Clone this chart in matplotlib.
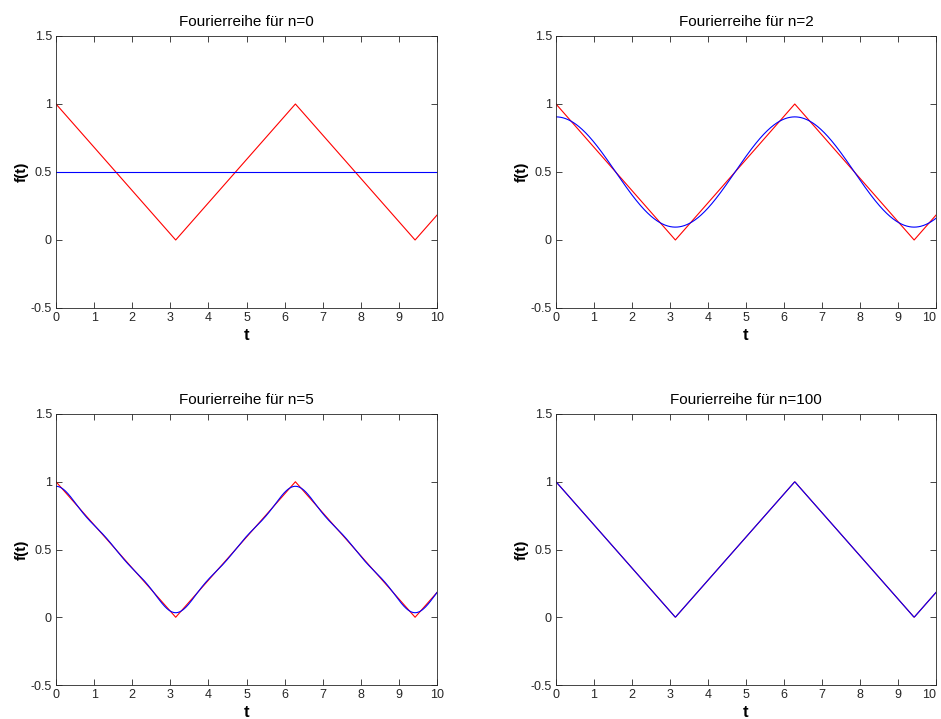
import numpy as np
import matplotlib.pyplot as plt

plt.rcParams['font.family'] = ['Liberation Sans', 'DejaVu Sans']

# triangle wave corners (period 2*pi), cut off at t = 10
t_corners = [0.0, 3.1416, 6.2832, 9.4248, 10.0]
f_corners = [1.0, 0.0, 1.0, 0.0, 0.183]

# number of harmonics in each partial sum
n_terms = [0, 2, 5, 100]

# Fourier coefficients of the wave: a0/2 = 0.5, a_k = 4/(pi^2 k^2) for odd k
a0_half = 0.5


def partial_sum(t, n):
    y = np.full_like(t, a0_half)
    for k in range(1, n + 1, 2):
        y += 4.0 / (np.pi ** 2 * k ** 2) * np.cos(k * t)
    return y


t = np.linspace(0, 10, 1001)

fig = plt.figure(figsize=(9.41, 7.19), dpi=100)
boxes = [
    [56 / 941, 1 - 308 / 719, 381 / 941, 272 / 719],
    [556 / 941, 1 - 308 / 719, 380 / 941, 272 / 719],
    [56 / 941, 1 - 685 / 719, 381 / 941, 271 / 719],
    [556 / 941, 1 - 685 / 719, 380 / 941, 271 / 719],
]

for i, (box, n) in enumerate(zip(boxes, n_terms)):
    ax = fig.add_axes(box)
    ax.plot(t_corners, f_corners, color='red', lw=0.8)
    ax.plot(t, partial_sum(t, n), color='blue', lw=0.8)
    ax.set_xlim(0, 10)
    ax.set_ylim(-0.5, 1.5)
    ax.set_xticks(range(0, 11))
    ax.set_yticks([-0.5, 0, 0.5, 1, 1.5])
    ax.set_yticklabels(['-0.5', '0', '0.5', '1', '1.5'])
    ax.tick_params(direction='in', top=True, right=True, length=4,
                   width=0.6, labelsize=9, colors='#262626', pad=3)
    for s in ax.spines.values():
        s.set_linewidth(0.6)
        s.set_color('#262626')
    # right column: keep the "10" inside the figure edge
    if i % 2 == 1:
        ax.get_xticklabels()[-1].set_horizontalalignment('right')
    ax.set_title('Fourierreihe für n=%d' % n, fontsize=11, pad=7)
    ax.set_xlabel('t', fontsize=12, fontweight='bold', labelpad=2.5)
    ax.set_ylabel('f(t)', fontsize=11, fontweight='bold', labelpad=1)

fig.savefig('out.png', dpi=100)
